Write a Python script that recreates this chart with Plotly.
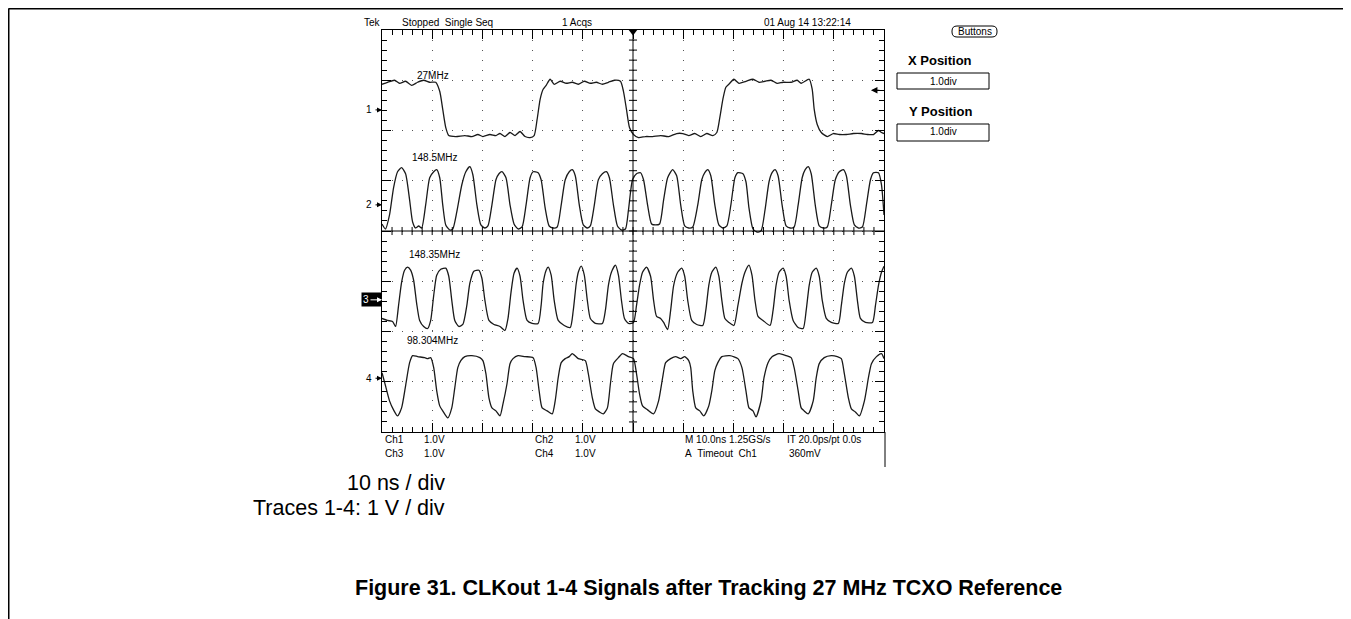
import plotly.graph_objects as go

# ---- waveform vertices (time in ns, level in divisions, 1 V/div) ----
ch1_t = [0.0, 1.1, 2.5, 3.5, 4.7, 5.9, 7.1, 8.3, 9.5, 10.7, 11.5, 12.1, 12.7, 13.3, 14.7, 16.5, 17.9,
         19.1, 20.1, 21.5, 22.7, 23.5, 24.5, 25.5, 26.5, 27.5, 28.5, 29.5, 30.3, 30.9, 31.5, 32.1, 32.7,
         33.5, 34.3, 35.5, 36.7, 37.9, 39.1, 40.3, 41.5, 42.7, 43.9, 45.1, 46.3, 47.5, 48.1, 48.7, 49.3,
         50.1, 51.1, 52.5, 53.9, 55.5, 57.1, 58.7, 59.9, 61.1, 62.3, 63.5, 64.7, 65.9, 66.7, 67.3, 67.9,
         68.5, 69.1, 70.1, 71.1, 72.5, 73.9, 75.1, 76.3, 77.5, 78.7, 79.9, 81.5, 82.7, 83.5, 85.1, 85.7,
         86.1, 86.7, 87.5, 88.7, 89.9, 91.1, 92.5, 93.9, 95.5, 96.7, 97.9, 98.9, 99.5, 100.0]
ch1_v = [2.92, 2.96, 3.00, 2.94, 2.98, 2.90, 2.96, 3.00, 2.96, 2.96, 2.78, 2.42, 2.06, 1.90, 1.88, 1.90, 1.88,
         1.92, 1.88, 1.92, 1.90, 1.94, 1.88, 1.96, 1.90, 1.98, 1.88, 1.86, 1.90, 2.22, 2.62, 2.82, 2.90,
         3.02, 2.92, 2.98, 2.94, 2.96, 2.92, 2.98, 2.94, 2.96, 2.92, 2.96, 3.00, 2.98, 2.78, 2.42, 2.06,
         1.92, 1.86, 1.88, 1.88, 1.90, 1.88, 1.94, 1.94, 1.90, 1.94, 1.88, 1.94, 1.90, 1.96, 2.26, 2.62,
         2.86, 2.92, 3.02, 2.94, 2.98, 3.02, 2.96, 2.98, 3.00, 2.94, 2.96, 2.96, 3.00, 2.94, 3.02, 2.82,
         2.42, 2.12, 1.96, 1.88, 1.94, 1.92, 1.92, 1.94, 1.94, 1.92, 1.92, 2.00, 1.96, 1.94]

ch2_t = [0.0, 0.7, 1.5, 2.3, 3.1, 3.9, 4.7, 5.5, 6.1, 6.7, 7.3, 7.9, 8.7, 9.5, 10.3, 10.9, 11.5, 12.1,
         12.7, 13.5, 14.1, 14.9, 15.9, 16.7, 17.5, 18.1, 18.9, 19.7, 20.5, 21.1, 21.9, 22.7, 23.3, 23.9,
         24.7, 25.5, 26.3, 27.1, 27.9, 28.7, 29.5, 30.1, 31.1, 31.7, 32.5, 33.3, 34.1, 34.9, 35.7, 36.5,
         37.3, 37.9, 38.5, 39.3, 40.1, 40.9, 41.5, 42.3, 43.1, 43.9, 44.7, 45.3, 46.1, 46.9, 47.7, 48.5,
         49.1, 49.9, 50.7, 51.5, 52.1, 52.9, 53.7, 54.5, 55.3, 56.1, 56.9, 57.9, 58.7, 59.5, 60.3, 61.1,
         61.9, 62.9, 63.7, 64.3, 64.9, 65.5, 66.3, 67.1, 67.9, 68.7, 69.5, 70.3, 70.9, 71.9, 72.5, 73.1,
         73.9, 74.7, 75.5, 76.3, 77.1, 77.7, 78.3, 78.9, 79.7, 80.5, 81.3, 82.1, 82.9, 83.7, 84.3, 84.9,
         85.5, 86.3, 87.1, 87.9, 88.7, 89.5, 90.3, 91.1, 91.9, 92.5, 93.3, 94.1, 94.9, 95.7, 96.5, 97.3,
         97.9, 98.9, 99.5, 100.0]
ch2_v = [0.14, 0.04, 0.32, 0.86, 1.18, 1.26, 1.14, 0.62, 0.18, 0.06, 0.10, 0.06, 0.52, 1.06, 1.18, 1.22, 1.06, 0.52,
         0.12, 0.02, 0.04, 0.38, 0.92, 1.18, 1.28, 1.12, 0.52, 0.12, 0.06, 0.10, 0.52, 1.02, 1.14, 1.18,
         1.06, 0.52, 0.14, 0.04, 0.08, 0.52, 1.06, 1.18, 1.16, 1.02, 0.46, 0.10, 0.06, 0.08, 0.52, 1.02,
         1.18, 1.22, 1.10, 0.52, 0.12, 0.06, 0.10, 0.52, 1.02, 1.14, 1.18, 1.06, 0.52, 0.10, 0.02, 0.04,
         0.42, 1.02, 1.14, 1.16, 1.02, 0.52, 0.14, 0.12, 0.14, 0.62, 1.06, 1.22, 1.10, 0.52, 0.10, 0.06,
         0.08, 0.52, 1.02, 1.16, 1.22, 1.10, 0.52, 0.12, 0.06, 0.10, 0.52, 1.06, 1.16, 1.14, 0.98, 0.46,
         0.04, -0.02, 0.00, 0.42, 0.98, 1.16, 1.22, 1.10, 0.52, 0.10, 0.06, 0.08, 0.52, 1.06, 1.22, 1.28,
         1.14, 0.52, 0.10, 0.06, 0.08, 0.52, 1.02, 1.18, 1.22, 1.10, 0.52, 0.12, 0.06, 0.08, 0.52, 1.02,
         1.16, 1.16, 0.92, 0.32]

ch3_t = [0.0, 1.1, 2.1, 2.7, 3.3, 3.9, 4.5, 5.1, 5.7, 6.3, 6.9, 7.5, 8.3, 9.1, 9.7, 10.3, 10.9, 11.7,
         12.7, 13.3, 13.9, 14.5, 15.3, 16.1, 16.9, 17.5, 18.3, 19.3, 19.9, 20.5, 21.3, 22.3, 23.5, 24.5,
         25.1, 25.7, 26.3, 26.9, 27.5, 28.1, 28.9, 29.9, 31.1, 31.7, 32.1, 32.7, 33.1, 33.7, 34.3, 35.1,
         36.3, 37.5, 38.1, 38.7, 39.1, 39.7, 40.3, 40.9, 41.5, 42.5, 43.9, 44.5, 45.1, 45.7, 46.5, 47.1,
         47.7, 48.3, 49.1, 50.1, 50.7, 51.3, 51.9, 52.7, 53.5, 54.1, 54.7, 55.5, 56.1, 56.9, 57.5, 58.1,
         58.9, 59.7, 60.3, 60.9, 61.7, 62.7, 63.9, 64.5, 65.1, 65.7, 66.5, 67.1, 67.7, 68.3, 69.1, 70.1,
         70.9, 71.7, 72.3, 73.1, 73.7, 74.3, 74.9, 75.9, 77.3, 77.9, 78.5, 79.1, 79.9, 80.5, 81.1, 81.9,
         82.9, 83.9, 84.5, 85.1, 85.7, 86.5, 87.1, 87.7, 88.5, 89.5, 90.9, 91.5, 92.1, 92.7, 93.5, 94.1,
         94.7, 95.3, 96.3, 97.7, 98.3, 98.9, 99.5, 100.0]
ch3_v = [-1.74, -1.78, -1.80, -1.90, -1.48, -1.02, -0.78, -0.72, -0.78, -0.98, -1.44, -1.78, -1.90, -1.94,
         -1.78, -1.28, -0.88, -0.76, -0.74, -0.90, -1.38, -1.78, -1.90, -1.86, -1.48, -1.04, -0.80, -0.78,
         -0.94, -1.38, -1.78, -1.86, -1.90, -1.98, -1.74, -1.22, -0.84, -0.74, -0.90, -1.38, -1.78, -1.84,
         -1.84, -1.48, -1.04, -0.78, -0.72, -0.88, -1.38, -1.78, -1.88, -1.92, -1.58, -1.04, -0.82, -0.70,
         -0.88, -1.38, -1.74, -1.84, -1.84, -1.58, -1.08, -0.82, -0.68, -0.88, -1.38, -1.74, -1.84, -1.82,
         -1.48, -1.08, -0.82, -0.72, -0.90, -1.38, -1.70, -1.74, -1.82, -1.96, -1.58, -1.08, -0.82, -0.74,
         -0.90, -1.38, -1.78, -1.86, -1.88, -1.58, -1.08, -0.82, -0.72, -0.90, -1.38, -1.74, -1.82, -1.88,
         -1.48, -1.04, -0.82, -0.68, -0.88, -1.38, -1.70, -1.78, -1.88, -1.58, -1.08, -0.82, -0.74, -0.90,
         -1.38, -1.78, -1.92, -1.94, -1.58, -1.08, -0.82, -0.74, -0.90, -1.38, -1.74, -1.82, -1.84, -1.48,
         -1.04, -0.82, -0.74, -0.90, -1.38, -1.74, -1.82, -1.82, -1.48, -1.08, -0.82, -0.70]

ch4_t = [0.0, 0.7, 1.5, 2.3, 3.1, 3.9, 4.7, 5.5, 6.1, 7.1, 8.5, 9.1, 9.7, 10.3, 10.9, 11.5, 12.1, 13.1,
         13.9, 14.5, 15.1, 15.7, 16.5, 17.9, 19.5, 20.1, 20.7, 21.3, 21.9, 22.7, 23.5, 24.1, 24.9, 25.5,
         26.1, 27.1, 28.5, 30.1, 30.7, 31.3, 31.9, 32.9, 33.9, 34.5, 35.1, 35.7, 36.5, 37.3, 37.9, 39.1,
         40.5, 41.1, 41.9, 42.5, 43.3, 44.1, 44.9, 45.5, 46.1, 47.1, 47.9, 49.1, 50.1, 50.7, 51.3, 51.9,
         52.9, 54.1, 55.1, 55.9, 56.5, 57.5, 58.5, 59.5, 60.3, 61.1, 61.5, 61.9, 62.5, 63.3, 64.1, 65.1,
         65.7, 66.3, 66.9, 67.7, 69.3, 70.9, 71.7, 72.5, 73.1, 73.9, 74.5, 75.5, 76.1, 76.9, 77.7, 79.1,
         80.5, 81.5, 82.1, 82.9, 83.5, 84.1, 84.9, 85.9, 86.5, 87.1, 88.1, 89.5, 90.7, 91.5, 92.1, 92.9,
         93.5, 94.3, 95.1, 96.1, 96.9, 97.5, 98.5, 99.5, 100.0]
ch4_v = [-2.82, -3.08, -3.38, -3.56, -3.68, -3.52, -3.08, -2.62, -2.48, -2.50, -2.52, -2.54, -2.52, -2.72,
         -3.18, -3.48, -3.58, -3.72, -3.52, -3.12, -2.72, -2.58, -2.50, -2.48, -2.52, -2.58, -2.84, -3.32,
         -3.52, -3.58, -3.68, -3.44, -3.04, -2.64, -2.54, -2.48, -2.50, -2.52, -2.72, -3.18, -3.52, -3.58,
         -3.64, -3.38, -2.92, -2.62, -2.54, -2.50, -2.44, -2.54, -2.58, -2.84, -3.32, -3.54, -3.60, -3.64,
         -3.52, -3.04, -2.64, -2.52, -2.44, -2.50, -2.54, -2.84, -3.24, -3.48, -3.56, -3.64, -3.38, -2.92,
         -2.62, -2.54, -2.50, -2.54, -2.50, -2.58, -2.72, -3.18, -3.52, -3.58, -3.68, -3.48, -3.18, -2.78,
         -2.62, -2.50, -2.48, -2.54, -2.72, -3.18, -3.52, -3.58, -3.70, -3.38, -2.92, -2.62, -2.50, -2.44,
         -2.48, -2.52, -2.72, -3.18, -3.52, -3.58, -3.64, -3.38, -2.92, -2.64, -2.52, -2.48, -2.50, -2.54,
         -2.84, -3.32, -3.54, -3.60, -3.68, -3.38, -2.92, -2.64, -2.50, -2.44, -2.54]

channels = [(ch1_t, ch1_v), (ch2_t, ch2_v), (ch3_t, ch3_v), (ch4_t, ch4_v)]
freq_labels = ["27MHz", "148.5MHz", "148.35MHz", "98.304MHz"]
freq_label_pos = [(6.5, 3.1), (5.5, 1.47), (4.9, -0.46), (4.5, -2.17)]
ground_markers = [2.41, 0.52, -1.37, -2.93]
trigger_level = 2.8

# ---- page geometry (pixels of the 1351x619 screenshot); the page body adds an 8px margin ----
W, H = 1351, 619
BODY = 8
L, R, T, B = 382, 884, 30, 432
FW, FH = W - BODY, H - BODY

def px(x):
    return (x - L) / (R - L)

def py(y):
    return (B - y) / (B - T)

scope_font = "Liberation Sans Narrow, Arial Narrow, Liberation Sans, Arial, sans-serif"
doc_font = "Liberation Sans, Arial, sans-serif"

fig = go.Figure()

for t, v in channels:
    fig.add_trace(go.Scatter(x=t, y=v, mode="lines",
                             line=dict(color="#1a1a1a", width=1.3, shape="spline", smoothing=0.6),
                             hoverinfo="skip", showlegend=False))

# trigger position marker at top centre
fig.add_trace(go.Scatter(x=[50], y=[3.97], mode="markers",
                         marker=dict(symbol="triangle-down", size=8, color="black"),
                         cliponaxis=False, hoverinfo="skip", showlegend=False))

shapes = []
# centre cross of the graticule with small ticks
shapes.append(dict(type="line", x0=50, x1=50, y0=-4, y1=4, line=dict(color="black", width=1)))
shapes.append(dict(type="line", x0=0, x1=100, y0=0, y1=0, line=dict(color="black", width=1)))
for i in range(1, 50):
    xt = i * 2
    shapes.append(dict(type="line", x0=xt, x1=xt, y0=-0.08, y1=0.08, line=dict(color="black", width=1)))
for i in range(1, 40):
    yt = -4 + i * 0.2
    shapes.append(dict(type="line", x0=49.2, x1=50.8, y0=yt, y1=yt, line=dict(color="black", width=1)))

# page frame lines
shapes.append(dict(type="line", xref="paper", yref="paper", x0=px(8.5), x1=px(W), y0=py(8.5), y1=py(8.5),
                   line=dict(color="black", width=2)))
shapes.append(dict(type="line", xref="paper", yref="paper", x0=px(8.5), x1=px(8.5), y0=py(8.5), y1=py(H),
                   line=dict(color="black", width=2)))
shapes.append(dict(type="line", xref="paper", yref="paper", x0=px(885), x1=px(885), y0=py(B), y1=py(467),
                   line=dict(color="black", width=1)))

# side panel boxes
for top, bot in [(73, 89), (124, 141)]:
    shapes.append(dict(type="rect", xref="paper", yref="paper", x0=px(897), x1=px(989),
                       y0=py(bot), y1=py(top), line=dict(color="black", width=1)))
bx0, bx1, by0, by1 = px(952), px(997), py(37), py(26)
rx, ry = 5 / (R - L), 5 / (B - T)
shapes.append(dict(type="path", xref="paper", yref="paper", line=dict(color="black", width=1),
                   path=(f"M {bx0+rx},{by1} L {bx1-rx},{by1} Q {bx1},{by1} {bx1},{by1-ry} "
                         f"L {bx1},{by0+ry} Q {bx1},{by0} {bx1-rx},{by0} L {bx0+rx},{by0} "
                         f"Q {bx0},{by0} {bx0},{by0+ry} L {bx0},{by1-ry} Q {bx0},{by1} {bx0+rx},{by1} Z")))

ann = []

def txt(text, x, y, size=10, xanchor="left", font=scope_font, color="black", bold=False, **kw):
    if bold:
        text = "<b>" + text + "</b>"
    ann.append(dict(text=text, x=px(x), y=py(y), xref="paper", yref="paper", showarrow=False,
                    xanchor=xanchor, yanchor="middle", font=dict(family=font, size=size, color=color), **kw))

# header line
txt("Tek", 362, 22)
txt("Stopped&nbsp;&nbsp;Single Seq", 400, 22)
txt("1 Acqs", 560, 22)
txt("01 Aug 14 13:22:14", 762, 22)

# side panel
txt("Buttons", 975, 32, size=10, xanchor="center")
txt("X Position", 940, 60, size=13, xanchor="center", font=doc_font, bold=True)
txt("1.0div", 943, 81, size=10, xanchor="center")
txt("Y Position", 940, 112, size=13, xanchor="center", font=doc_font, bold=True)
txt("1.0div", 943, 132, size=10, xanchor="center")

# readout below the graticule
txt("Ch1", 383, 439)
txt("1.0V", 422, 439)
txt("Ch3", 383, 453)
txt("1.0V", 422, 453)
txt("Ch2", 533, 439)
txt("1.0V", 573, 439)
txt("Ch4", 533, 453)
txt("1.0V", 573, 453)
txt("M 10.0ns 1.25GS/s", 683, 439)
txt("IT 20.0ps/pt 0.0s", 785, 439)
txt("A&nbsp;&nbsp;Timeout&nbsp;&nbsp;Ch1", 683, 453)
txt("360mV", 787, 453)

# document text
txt("10 ns / div", 447, 483, size=21.5, xanchor="right", font=doc_font)
txt("Traces 1-4: 1 V / div", 447, 508, size=21.5, xanchor="right", font=doc_font)
txt("Figure 31. CLKout 1-4 Signals after Tracking 27 MHz TCXO Reference", 708, 588, size=21.5,
    xanchor="center", font=doc_font, bold=True)

# channel labels inside the graticule
for label, (lx, ly) in zip(freq_labels, freq_label_pos):
    ann.append(dict(text=label, x=lx, y=ly, xref="x", yref="y", showarrow=False, xanchor="left",
                    font=dict(family=scope_font, size=10, color="black")))

# channel ground markers on the left edge
for i, g in enumerate(ground_markers):
    n = str(i + 1)
    if n == "3":
        ann.append(dict(text="3&nbsp;&nbsp;&nbsp;&nbsp;", x=0, y=g, xref="paper", yref="y", showarrow=False,
                        xanchor="right", font=dict(family=scope_font, size=10, color="white"),
                        bgcolor="black", borderpad=1))
        arrow_color = "white"
    else:
        arrow_color = "black"
    ann.append(dict(text=n if n != "3" else "", x=0, y=g, xref="paper", yref="y", ax=-13, ay=0,
                    showarrow=True, arrowhead=2, arrowsize=1, arrowwidth=1, arrowcolor=arrow_color,
                    standoff=0, startstandoff=2 if n != "3" else 0,
                    font=dict(family=scope_font, size=10, color="black")))

# trigger level arrow on the right edge
ann.append(dict(text="", x=97.4, y=trigger_level, xref="x", yref="y", ax=10, ay=0, showarrow=True,
                arrowhead=2, arrowsize=1, arrowwidth=1.3, arrowcolor="black"))

fig.update_layout(
    width=FW, height=FH, autosize=False,
    margin=dict(l=L - BODY, r=FW - (R - BODY), t=T - BODY, b=FH - (B - BODY), pad=0),
    paper_bgcolor="white", plot_bgcolor="white",
    shapes=shapes, annotations=ann, showlegend=False,
    xaxis=dict(range=[0, 100], dtick=10, showgrid=True, gridcolor="#555", gridwidth=1, griddash="1px,9px",
               zeroline=False, showline=True, linecolor="black", linewidth=1, mirror="allticks",
               ticks="inside", ticklen=9, tickcolor="black", showticklabels=False, fixedrange=True,
               minor=dict(ticks="inside", dtick=2, ticklen=5, tickcolor="black", showgrid=False)),
    yaxis=dict(range=[-4, 4], dtick=1, showgrid=True, gridcolor="#555", gridwidth=1, griddash="1px,9px",
               zeroline=False, showline=True, linecolor="black", linewidth=1, mirror="allticks",
               ticks="inside", ticklen=9, tickcolor="black", showticklabels=False, fixedrange=True,
               minor=dict(ticks="inside", dtick=0.2, ticklen=5, tickcolor="black", showgrid=False)),
)

fig.write_html("out.html")
